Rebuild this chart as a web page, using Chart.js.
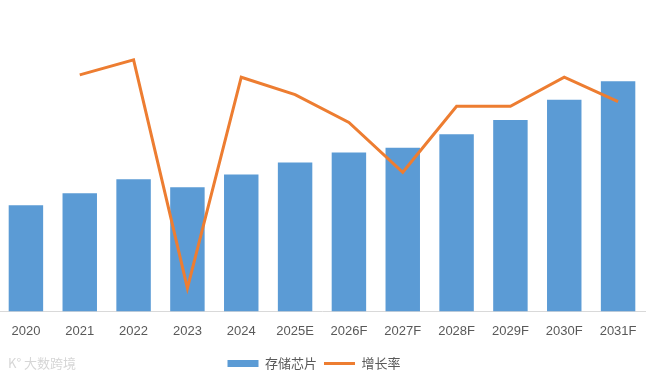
<!DOCTYPE html>
<html>
<head>
<meta charset="utf-8">
<script src="https://cdn.jsdelivr.net/npm/chart.js@4/dist/chart.umd.min.js"></script>
<style>
  html, body { margin: 0; padding: 0; background: #ffffff; overflow: hidden; }
  #wrap { position: absolute; left: -1px; top: 0; width: 651px; height: 382px; }
  #wm { position: absolute; left: 8px; top: 353px; font: 13px "Noto Sans CJK SC", sans-serif; color: #d6d6d6; letter-spacing: 0px; }
</style>
</head>
<body>
<div id="wrap"><canvas id="c" width="651" height="382"></canvas></div>
<div id="wm">K° 大数跨境</div>
<script>
const categories = ["2020", "2021", "2022", "2023", "2024", "2025E", "2026F", "2027F", "2028F", "2029F", "2030F", "2031F"];
const chipValues = [1056, 1176, 1316, 1236, 1362, 1482, 1582, 1628, 1764, 1904, 2106, 2292];
const growthRate = [null, 11.4, 12.7, -7.0, 11.2, 9.7, 7.3, 3.0, 8.7, 8.7, 11.2, 9.1];
const seriesNames = ["存储芯片", "增长率"];

const EXTRA = 7;
const legendTweak = {
  id: 'legendTweak',
  beforeLayout(chart) {
    const lg = chart.legend;
    if (lg && !lg._patched) {
      const f = lg.fit.bind(lg);
      lg.fit = function () { f(); this.height += EXTRA; };
      lg._patched = true;
    }
  },
  afterLayout(chart) {
    const lg = chart.legend;
    if (lg) { lg.left -= 8; lg.right -= 8; lg.top += EXTRA; }
  }
};

new Chart(document.getElementById('c'), {
  data: {
    labels: categories,
    datasets: [
      {
        type: 'line',
        label: seriesNames[1],
        data: growthRate,
        yAxisID: 'y1',
        borderColor: '#ED7D31',
        backgroundColor: '#ED7D31',
        borderWidth: 3,
        pointRadius: 0,
        pointStyle: 'line',
        tension: 0,
        order: 0
      },
      {
        type: 'bar',
        label: seriesNames[0],
        data: chipValues,
        yAxisID: 'y',
        backgroundColor: '#5B9BD5',
        borderWidth: 0,
        pointStyle: 'rect',
        categoryPercentage: 1.0,
        barPercentage: 0.64,
        order: 1
      }
    ]
  },
  options: {
    responsive: false,
    animation: false,
    devicePixelRatio: 1,
    layout: { padding: { top: 10, bottom: 2, left: 0, right: 5 } },
    plugins: {
      tooltip: { enabled: false },
      legend: {
        position: 'bottom',
        reverse: true,
        labels: {
          usePointStyle: true,
          pointStyleWidth: 31,
          boxHeight: 7,
          padding: 7,
          color: '#595959',
          font: { family: '"Noto Sans CJK SC", sans-serif', size: 13 }
        }
      }
    },
    scales: {
      x: {
        grid: { display: false },
        border: { display: true, color: '#D9D9D9', width: 1 },
        ticks: {
          color: '#595959',
          padding: 4,
          maxRotation: 0,
          autoSkip: false,
          font: { family: '"Liberation Sans", Arial, sans-serif', size: 13 }
        }
      },
      y: {
        display: false,
        min: 0,
        max: 3000
      },
      y1: {
        display: false,
        position: 'right',
        min: -9,
        max: 17
      }
    }
  },
  plugins: [legendTweak]
});
</script>
</body>
</html>
